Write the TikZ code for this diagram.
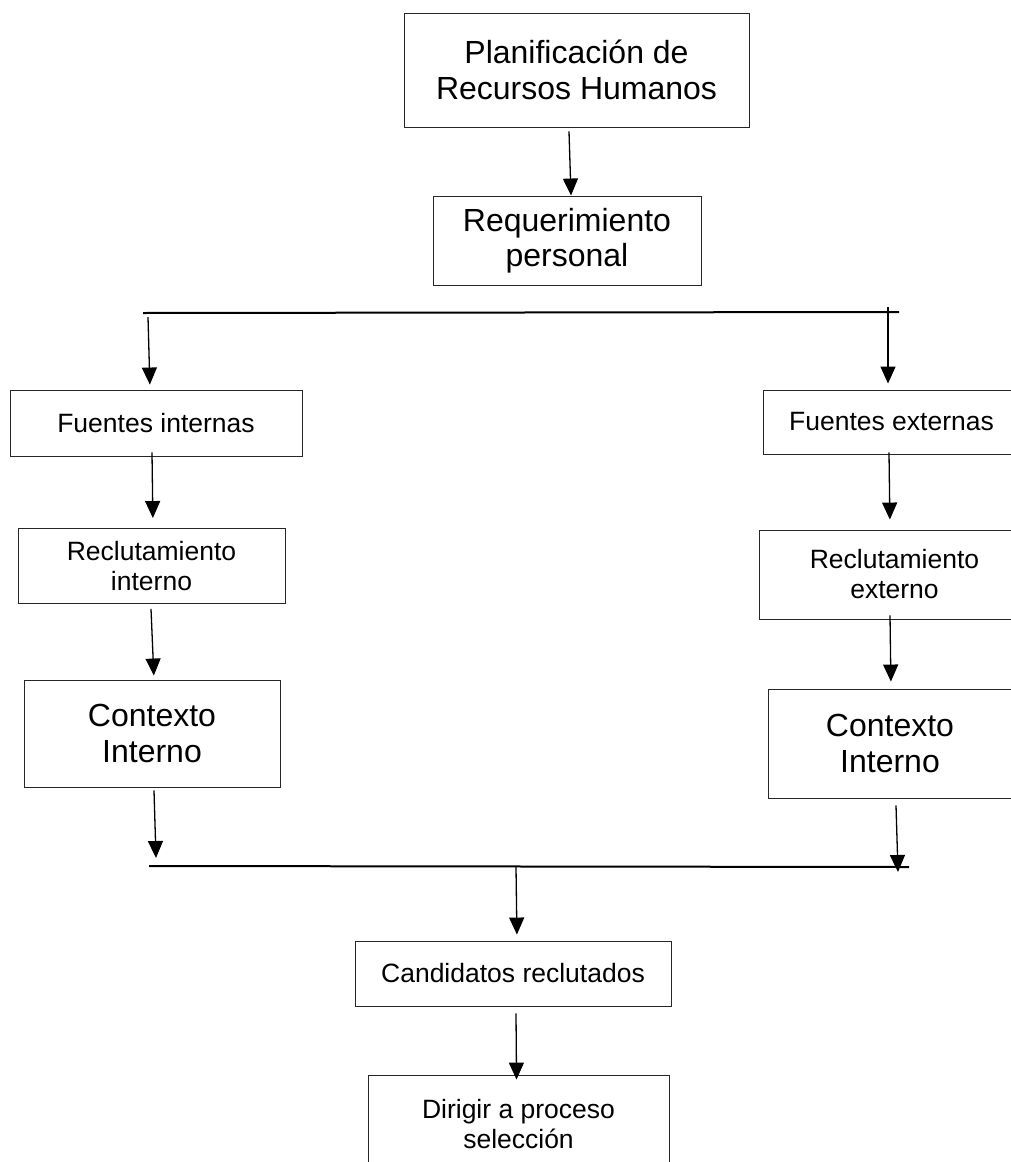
\documentclass[tikz,border=0pt]{standalone}
\usepackage{fontspec}
\setmainfont{Liberation Sans}
\usetikzlibrary{arrows.meta}

\tikzset{
    box/.style={draw=black!85, line width=0.9pt, inner sep=0pt, align=center},
    big/.style={font=\fontsize{32}{35.5}\selectfont},
    small/.style={font=\fontsize{26.5}{30}\selectfont},
    arr/.style={-{Triangle[width=15pt,length=17pt]}, line width=1.3pt},
    bar/.style={line width=2pt}
}

\begin{document}
\begin{tikzpicture}[x=1pt, y=-1pt]

        % Page frame
        \path[use as bounding box, fill=white] (0,0) rectangle (1011,1162);

        % Top of the chart
        \node[box, big, minimum width=345pt, minimum height=114pt] (plan) at (576.5,70) {Planificación de\\Recursos Humanos};
        \node[box, big, minimum width=268pt, minimum height=89pt] (req) at (567,240.5) {Requerimiento\\personal};

        % Internal branch
        \node[box, small, minimum width=292pt, minimum height=66pt] (fint) at (156,423) {Fuentes internas};
        \node[box, small, minimum width=267pt, minimum height=75pt] (rint) at (151.5,566) {Reclutamiento\\interno};
        \node[box, big, minimum width=256pt, minimum height=107pt] (cint) at (152,733.5) {Contexto\\Interno};

        % External branch
        \node[box, small, minimum width=257pt, minimum height=64pt] (fext) at (891.5,422) {Fuentes externas};
        \node[box, small, minimum width=271pt, minimum height=89pt] (rext) at (894.5,574.5) {Reclutamiento\\externo};
        \node[box, big, minimum width=244pt, minimum height=109pt] (cext) at (890,743.5) {Contexto\\Interno};

        % Bottom of the chart
        \node[box, small, minimum width=316pt, minimum height=65pt] (cand) at (513,973.5) {Candidatos reclutados};
        \node[box, small, minimum width=301pt, minimum height=98pt] (dir) at (518.5,1124) {Dirigir a proceso\\selección};

        % Split and merge bars
        \coordinate (splitL) at (143,313);
        \coordinate (splitR) at (899,312);
        \coordinate (mergeL) at (149,866);
        \coordinate (mergeR) at (909,867);
        \draw[bar] (splitL) -- (splitR);
        \draw[bar] (mergeL) -- (mergeR);

        % Free ends on the bars
        \coordinate (sI) at (148,317);
        \coordinate (sE) at (888,307);
        \coordinate (mI) at (156,858);
        \coordinate (mE) at (898,872);
        \coordinate (mC) at (516,867);

        % Arrows
        \draw[arr] ([xshift=-7.5pt,yshift=-4pt]plan.south) -- ([xshift=4pt]req.north);
        \draw[arr, shorten >=5pt] (sI) -- ([xshift=-6pt]fint.north);
        \draw[arr, shorten >=6pt] (sE) -- ([xshift=-3.5pt]fext.north);
        \draw[arr, shorten >=10pt] ([xshift=-4pt,yshift=4pt]fint.south) -- ([xshift=1.5pt]rint.north);
        \draw[arr, shorten >=10pt] ([xshift=-2.5pt,yshift=2pt]fext.south) -- ([xshift=-4.5pt]rext.north);
        \draw[arr, shorten >=4pt] ([xshift=-0.5pt,yshift=-5pt]rint.south) -- ([xshift=2pt]cint.north);
        \draw[arr, shorten >=7pt] ([xshift=-4.5pt,yshift=4pt]rext.south) -- ([xshift=1pt]cext.north);
        \draw[arr] ([xshift=2pt,yshift=-3pt]cint.south) -- (mI);
        \draw[arr] ([xshift=6pt,yshift=-7pt]cext.south) -- (mE);
        \draw[arr, shorten >=6pt] (mC) -- ([xshift=4pt]cand.north);
        \draw[arr, shorten >=-5pt] ([xshift=3pt,yshift=-7pt]cand.south) -- ([xshift=-2pt]dir.north);

\end{tikzpicture}
\end{document}
